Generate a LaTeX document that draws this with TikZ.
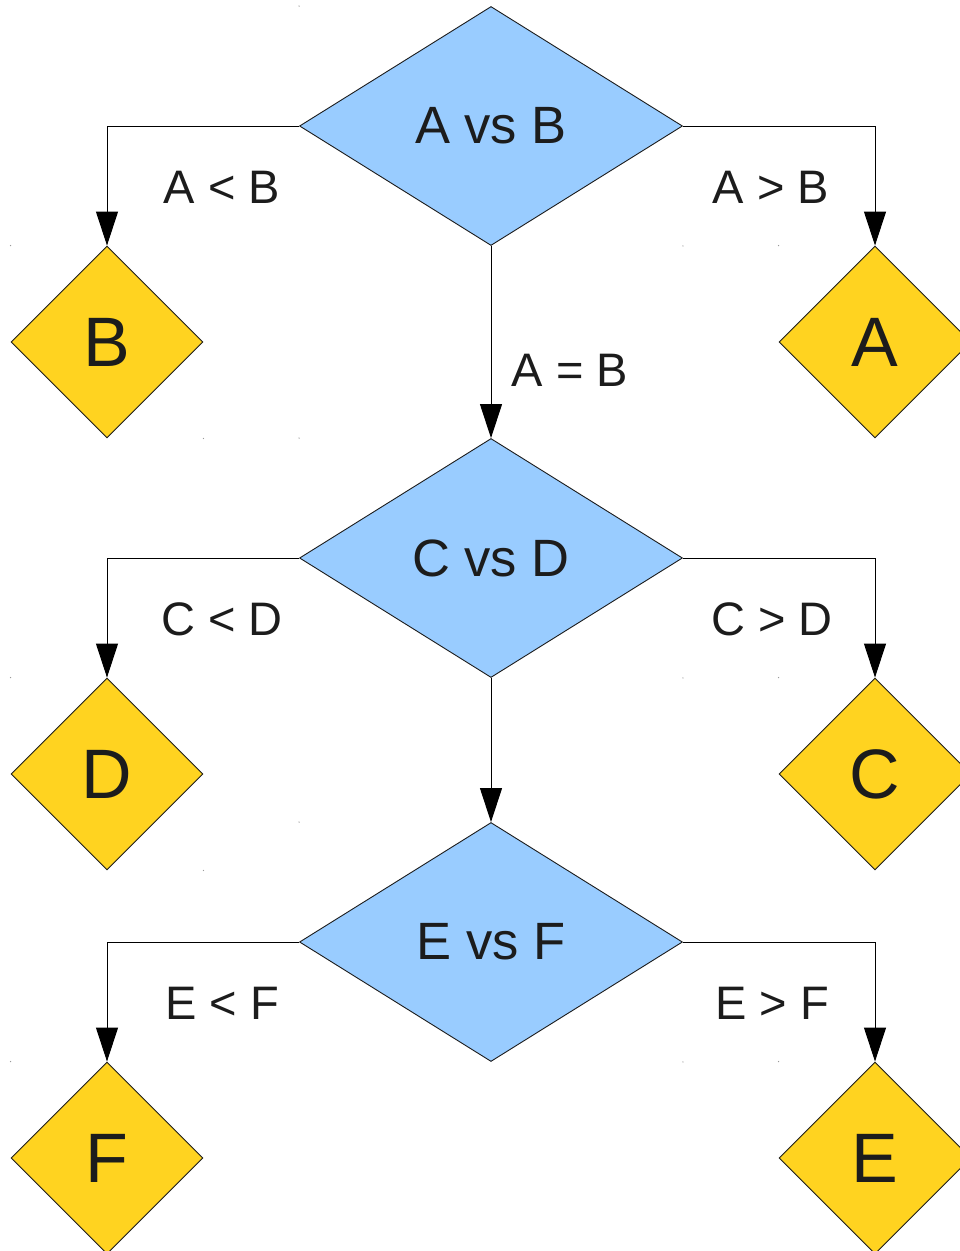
\documentclass[tikz,border=0pt]{standalone}
\usepackage{fontspec}
\setmainfont{Liberation Sans}
\usetikzlibrary{shapes.geometric,arrows.meta}
\definecolor{qblue}{HTML}{99CCFF}
\definecolor{ryellow}{HTML}{FFD320}
\definecolor{ink}{HTML}{1C1C1C}
\definecolor{dotgray}{HTML}{9A9A9A}
\tikzset{
  question/.style={diamond, draw=ink, line width=0.9pt, fill=qblue, inner sep=0pt,
    minimum width=383pt, minimum height=239pt, text=ink,
    font=\fontsize{52.5}{60}\selectfont},
  result/.style={diamond, draw=ink, line width=0.9pt, fill=ryellow, inner sep=0pt,
    minimum width=192pt, minimum height=192pt, text=ink,
    font=\fontsize{70}{80}\selectfont},
  edgelabel/.style={anchor=base, inner sep=0pt, text=ink,
    font=\fontsize{47}{54}\selectfont},
  flow/.style={draw=black, line width=1pt,
    -{Triangle[length=34pt,width=22pt]}},
  corner/.style={fill=dotgray}
}
\begin{document}
\begin{tikzpicture}[x=1pt,y=-1pt]
\useasboundingbox (0,0) rectangle (960,1251);
\clip (0,0) rectangle (960,1251);

% comparison diamonds
\node[question] (q1) at (491,126) {A vs B};
\node[question] (q2) at (491,558) {C vs D};
\node[question] (q3) at (491,942) {E vs F};

% outcome diamonds
\node[result] (rb) at (107,342) {B};
\node[result] (ra) at (875,342) {A};
\node[result] (rd) at (107,774) {D};
\node[result] (rc) at (875,774) {C};
\node[result] (rf) at (107,1158) {F};
\node[result] (re) at (875,1158) {E};

% branches
\draw[flow] (q1.west) -| (rb.north);
\draw[flow] (q1.east) -| (ra.north);
\draw[flow] (q1.south) -- (q2.north);
\draw[flow] (q2.west) -| (rd.north);
\draw[flow] (q2.east) -| (rc.north);
\draw[flow] (q2.south) -- (q3.north);
\draw[flow] (q3.west) -| (rf.north);
\draw[flow] (q3.east) -| (re.north);

% branch labels
\node[edgelabel] (l1) at (222,203) {A < B};
\node[edgelabel] (l2) at (771,203) {A > B};
\node[edgelabel] (l3) at (570,386) {A = B};
\node[edgelabel] (l4) at (222,635) {C < D};
\node[edgelabel] (l5) at (772,635) {C > D};
\node[edgelabel] (l6) at (222,1019) {E < F};
\node[edgelabel] (l7) at (772,1019) {E > F};

% tiny markers at the bounding corners of each shape
\foreach \n in {q1,q2,q3,rb,ra,rd,rc,rf,re}{
  \fill[corner] (\n.west |- \n.north) circle (0.7pt);
  \fill[corner] (\n.east |- \n.south) circle (0.7pt);
}
\end{tikzpicture}
\end{document}
